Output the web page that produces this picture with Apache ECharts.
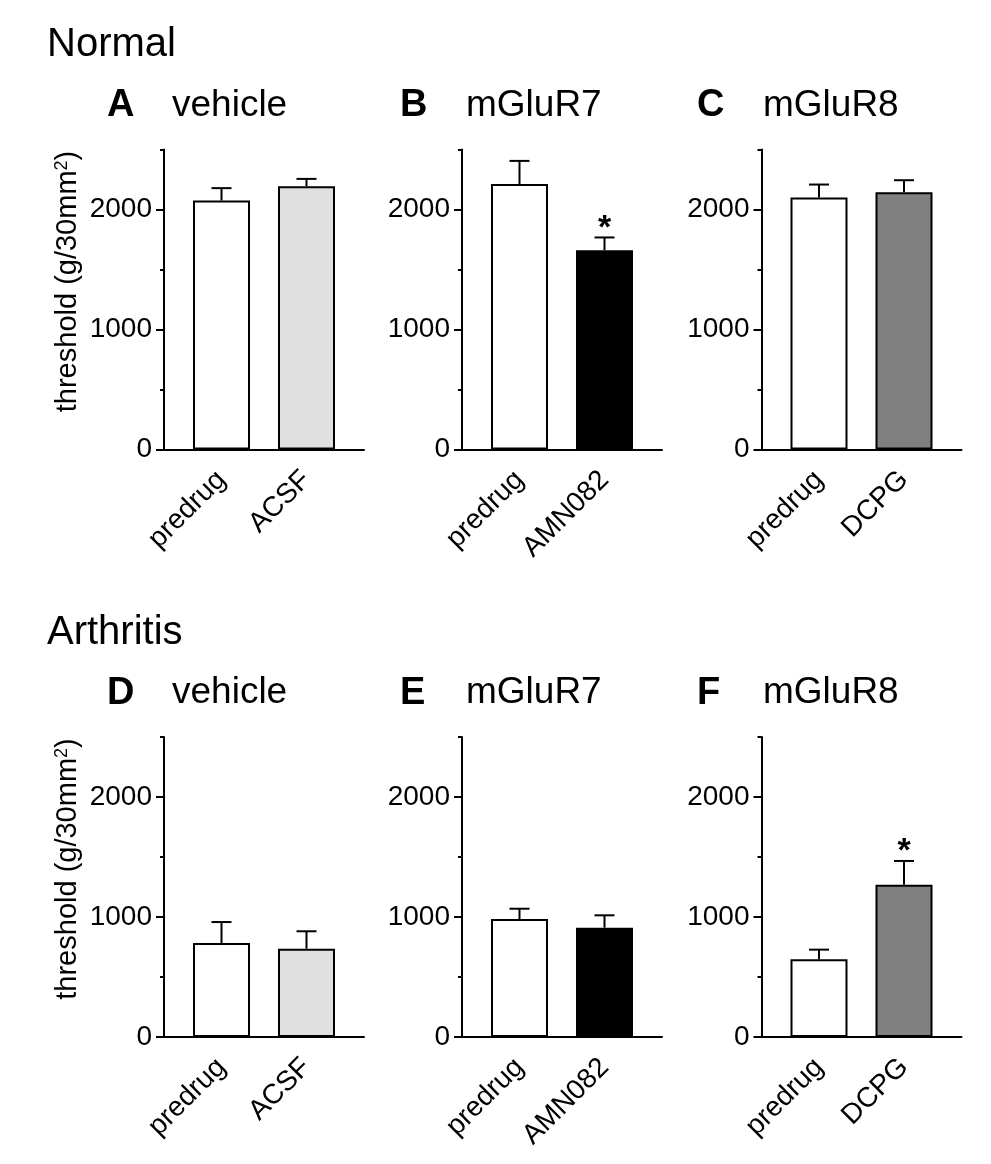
<!DOCTYPE html>
<html>
<head>
<meta charset="utf-8">
<script src="https://cdn.jsdelivr.net/npm/echarts@6/dist/echarts.min.js"></script>
<style>
  html, body { margin: 0; padding: 0; background: #fff; }
  #chart { width: 991px; height: 1164px; }
</style>
</head>
<body>
<div id="chart"></div>
<script>
(function () {

  // data
  var rowTitles = ['Normal', 'Arthritis'];
  var panelLetters = ['A', 'B', 'C', 'D', 'E', 'F'];
  var panelNames = ['vehicle', 'mGluR7', 'mGluR8', 'vehicle', 'mGluR7', 'mGluR8'];
  var groups = [
    ['predrug', 'ACSF'], ['predrug', 'AMN082'], ['predrug', 'DCPG'],
    ['predrug', 'ACSF'], ['predrug', 'AMN082'], ['predrug', 'DCPG']
  ];
  var means = [
    [2075, 2194], [2213, 1661], [2100, 2144],
    [783, 736], [983, 911], [647, 1269]
  ];
  var sems = [
    [103, 61], [192, 106], [108, 100],
    [175, 145], [86, 103], [81, 198]
  ];
  var stars = [
    [0, 0], [0, 1], [0, 0],
    [0, 0], [0, 0], [0, 1]
  ];
  var yLabelValues = [0, 1000, 2000];
  var yMinorValues = [500, 1500, 2500];
  var yMax = 2500;
  var fills = { predrug: '#ffffff', ACSF: '#e0e0e0', AMN082: '#000000', DCPG: '#808080' };

  ///////////////////////////////////////////////////////////////////
  // layout
  ///////////////////////////////////////////////////////////////////
  var font = '"Liberation Sans", Arial, sans-serif';
  var colLeft = [164, 462, 761.5];
  var rowTop = [149.5, 737];
  var rowShift = 587.5;
  var letterLeft = [107, 400, 697];
  var nameLeft = [172, 466, 763];
  var gridW = 200, gridH = 300;

  var grids = [], xAxes = [], yAxes = [], series = [], titles = [];

  rowTitles.forEach(function (t, r) {
    titles.push({
      text: t, left: 47, top: 25 + r * rowShift, padding: 0,
      textStyle: { fontSize: 40, fontWeight: 'normal', color: '#000', fontFamily: font }
    });
  });

  panelLetters.forEach(function (letter, i) {
    var row = Math.floor(i / 3), col = i % 3;

    titles.push({
      text: letter, left: letterLeft[col], top: 87 + row * rowShift, padding: 0,
      textStyle: { fontSize: 38, fontWeight: 'bold', color: '#000', fontFamily: font }
    });
    titles.push({
      text: panelNames[i], left: nameLeft[col], top: 87 + row * rowShift, padding: 0,
      textStyle: { fontSize: 37, fontWeight: 'normal', color: '#000', fontFamily: font }
    });

    grids.push({ left: colLeft[col], top: rowTop[row], width: gridW, height: gridH });

    xAxes.push({
      gridIndex: i, type: 'value', min: 0.3235, max: 2.6765,
      axisLine: { show: true, onZero: false, lineStyle: { color: '#000', width: 2 } },
      axisTick: { show: false },
      splitLine: { show: false },
      axisLabel: {
        customValues: [1, 2], rotate: 45, margin: 26,
        fontSize: 28, color: '#000', fontFamily: font,
        formatter: function (v) { return groups[i][Math.round(v) - 1]; }
      }
    });

    var mainAxis = {
      gridIndex: i, type: 'value', min: 0, max: yMax, position: 'left',
      axisLine: { show: true, lineStyle: { color: '#000', width: 2 } },
      axisTick: { show: true, customValues: yLabelValues, length: 8, lineStyle: { color: '#000', width: 2 } },
      axisLabel: {
        customValues: yLabelValues, margin: 12, fontSize: 28, color: '#000', fontFamily: font,
        formatter: function (v) { return String(v); }
      },
      splitLine: { show: false }
    };
    if (col === 0) {
      mainAxis.name = 'threshold (g/30mm{sup|2})';
      mainAxis.nameLocation = 'middle';
      mainAxis.nameGap = 82;
      mainAxis.nameTextStyle = {
        fontSize: 29, color: '#000', fontFamily: font, padding: [0, 0, 0, 36],
        rich: { sup: { fontSize: 18, color: '#000', fontFamily: font, verticalAlign: 'top' } }
      };
    }
    yAxes.push(mainAxis);
    yAxes.push({
      gridIndex: i, type: 'value', min: 0, max: yMax, position: 'left', offset: 0,
      axisLine: { show: false },
      axisTick: { show: true, customValues: yMinorValues, length: 4, lineStyle: { color: '#000', width: 2 } },
      axisLabel: { show: false },
      splitLine: { show: false }
    });

    series.push({
      type: 'bar', xAxisIndex: i, yAxisIndex: 2 * i,
      barWidth: 57, silent: true,
      itemStyle: { borderColor: '#000', borderWidth: 2 },
      data: means[i].map(function (m, k) {
        return { value: [k + 1, m], itemStyle: { color: fills[groups[i][k]] } };
      })
    });

    // error bars (mean + SEM) and significance star
    series.push({
      type: 'custom', xAxisIndex: i, yAxisIndex: 2 * i, silent: true, z: 3,
      encode: { x: 0, y: 1 },
      data: means[i].map(function (m, k) { return [k + 1, m, sems[i][k], stars[i][k]]; }),
      renderItem: function (params, api) {
        var x = api.value(0), m = api.value(1), s = api.value(2);
        var base = api.coord([x, m]);
        var top = api.coord([x, m + s]);
        var style = { stroke: '#000', lineWidth: 2 };
        var kids = [
          { type: 'line', shape: { x1: base[0], y1: base[1], x2: top[0], y2: top[1] }, style: style },
          { type: 'line', shape: { x1: top[0] - 10, y1: top[1], x2: top[0] + 10, y2: top[1] }, style: style }
        ];
        if (api.value(3)) {
          kids.push({
            type: 'text', x: top[0], y: top[1] + 8,
            style: { text: '*', fontSize: 34, fontWeight: 'bold', fontFamily: font, fill: '#000', align: 'center', verticalAlign: 'bottom' }
          });
        }
        return { type: 'group', children: kids };
      }
    });
  });

  var myChart = echarts.init(document.getElementById('chart'));
  myChart.setOption({
    backgroundColor: '#fff',
    animation: false,
    title: titles,
    grid: grids,
    xAxis: xAxes,
    yAxis: yAxes,
    series: series
  });
}());
</script>
</body>
</html>
